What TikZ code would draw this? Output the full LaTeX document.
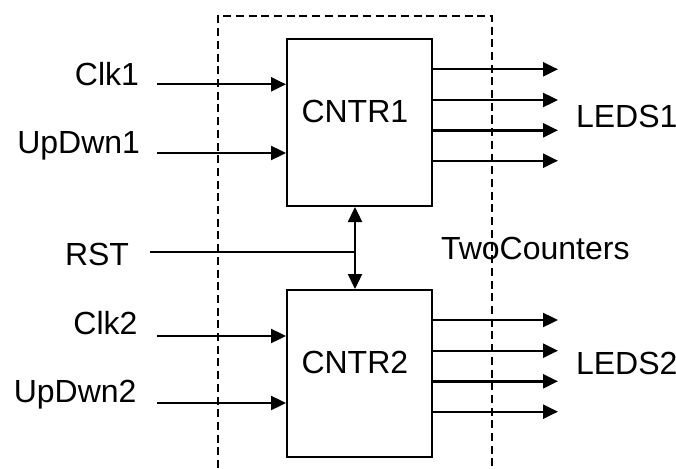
\documentclass[tikz,border=0pt]{standalone}
\usepackage{fontspec}
\setmainfont{Liberation Sans}
\usetikzlibrary{arrows.meta}
\begin{document}
\begin{tikzpicture}[x=1pt,y=-1pt,
  txt/.style={font=\fontsize{32}{38}\selectfont, inner sep=0pt, outer sep=0pt},
  block/.style={draw, line width=2pt, minimum width=145pt, minimum height=167pt, inner sep=0pt},
  sig/.style={line width=2.4pt, -{Triangle[length=15pt,width=14pt]}},
  bus/.style={line width=2.4pt, {Triangle[length=15pt,width=14pt]}-{Triangle[length=15pt,width=14pt]}},
  rstline/.style={line width=1.5pt},
  frame/.style={line width=2pt, dash pattern=on 8pt off 4.7pt}]
\useasboundingbox (0,0) rectangle (676,468);

% the two counter blocks
\node[block] (cntr1) at (359.5,122.5) {};
\node[block] (cntr2) at (359.5,373.5) {};
\node[txt, anchor=base west] (cntr1lbl) at (301.5,122.7) {CNTR1};
\node[txt, anchor=base west] (cntr2lbl) at (301.5,373.3) {CNTR2};

% enclosing TwoCounters boundary (open at the bottom)
\coordinate (fr1) at (218,468);
\coordinate (fr2) at (218,16);
\coordinate (fr3) at (492,16);
\coordinate (fr4) at (492,468);
\draw[frame] (fr1) -- (fr2) -- (fr3) -- (fr4);
\node[txt, anchor=base west] (top) at (441,259) {TwoCounters};

% input labels
\node[txt, anchor=base east] (clk1) at (139,85) {Clk1};
\node[txt, anchor=base east] (updwn1) at (140,153) {UpDwn1};
\node[txt, anchor=base east] (rst) at (129,265) {RST};
\node[txt, anchor=base east] (clk2) at (137.5,334.5) {Clk2};
\node[txt, anchor=base east] (updwn2) at (136.5,402) {UpDwn2};

% input wires
\coordinate (clk1in) at (157,84.3);
\coordinate (updwn1in) at (157,153);
\coordinate (clk2in) at (157,336);
\coordinate (updwn2in) at (157,403);
\draw[sig] (clk1in) -- (cntr1.west |- clk1in);
\draw[sig] (updwn1in) -- (cntr1.west |- updwn1in);
\draw[sig] (clk2in) -- (cntr2.west |- clk2in);
\draw[sig] (updwn2in) -- (cntr2.west |- updwn2in);

% shared reset
\coordinate (rstin) at (150,252);
\coordinate (rstj) at (355,252);
\draw[rstline] (rstin) -- (rstj);
\draw[bus] (cntr1.south -| rstj) -- (cntr2.north -| rstj);

% LED outputs
\coordinate (la1) at (558,69.3);
\coordinate (la2) at (558,100);
\coordinate (la3) at (558,130.3);
\coordinate (la4) at (558,160.7);
\coordinate (lb1) at (558,320);
\coordinate (lb2) at (558,350.7);
\coordinate (lb3) at (558,381.3);
\coordinate (lb4) at (558,411.7);
\foreach \p in {la1,la2,la3,la4}
  \draw[sig] (cntr1.east |- \p) -- (\p);
\foreach \p in {lb1,lb2,lb3,lb4}
  \draw[sig] (cntr2.east |- \p) -- (\p);
\node[txt, anchor=base west] (leds1) at (576,127.7) {LEDS1};
\node[txt, anchor=base west] (leds2) at (576,374.4) {LEDS2};
\end{tikzpicture}
\end{document}
